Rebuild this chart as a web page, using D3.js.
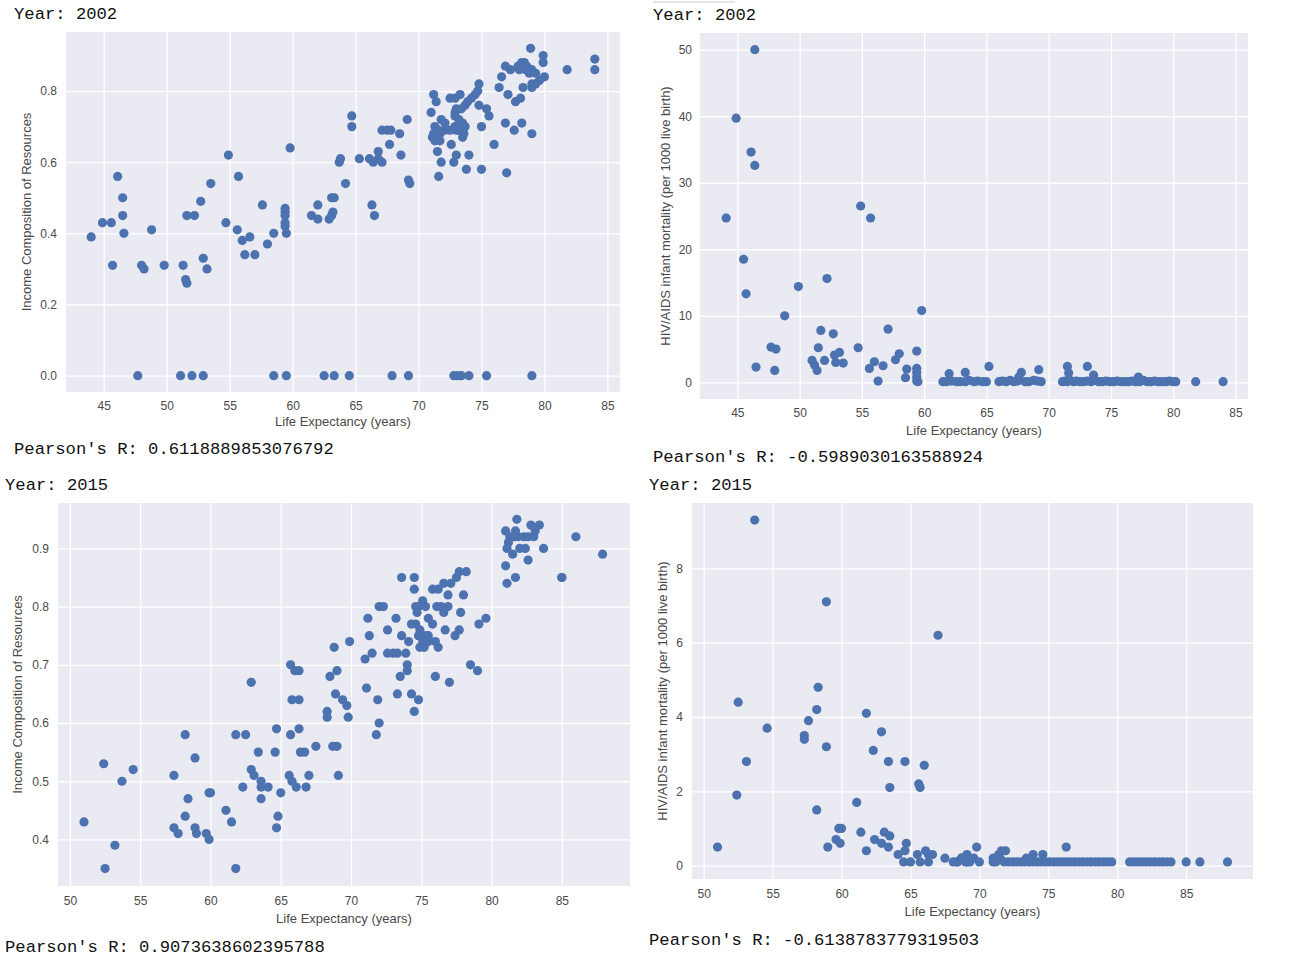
<!DOCTYPE html>
<html>
<head>
<meta charset="utf-8">
<script src="https://cdn.jsdelivr.net/npm/d3@7"></script>
<style>
  html, body { margin: 0; padding: 0; background: #ffffff; }
  svg { display: block; }
</style>
</head>
<body>
<svg id="chart" width="1294" height="962"></svg>
<script>
// ---------------- DATA ----------------
// Panel 1: 2002, life expectancy vs income composition of resources
const lifeExp2002_icr = [
  44.0,44.9,45.6,46.1,46.5,46.5,46.6,45.7,48.8,48.0,48.2,49.8,51.3,51.5,51.6,51.6,52.2,52.7,52.9,53.2,
  53.5,54.9,54.7,55.6,55.7,56.0,56.2,56.6,57.0,57.6,58.0,58.5,59.4,59.4,59.4,59.4,59.4,59.5,59.8,61.5,
  62.0,62.0,62.9,63.1,63.2,63.1,63.3,63.7,63.8,64.2,64.7,64.7,65.3,66.1,66.4,66.8,67.1,66.8,66.3,66.5,
  67.1,67.5,67.8,68.5,67.7,68.6,69.1,69.2,69.3,
  47.7,51.1,52.0,52.9,58.5,59.5,62.5,63.3,64.5,67.9,69.2,72.8,73.1,73.4,74.0,75.4,79.0,
  71.2,71.4,71.0,72.5,72.9,73.3,74.8,74.7,74.5,74.2,73.9,73.7,73.4,73.0,72.9,74.8,75.4,75.6,75.0,71.8,
  72.1,72.9,73.2,73.5,73.7,73.3,73.0,71.3,71.6,71.2,71.4,71.7,71.1,71.3,71.7,72.1,72.5,72.9,73.2,73.6,
  73.5,73.6,72.6,73.0,74.0,71.5,71.8,72.8,73.8,75.0,77.0,76.0,71.6,76.6,76.4,76.9,77.3,77.9,78.2,78.4,
  78.6,78.0,78.5,79.0,79.3,78.8,78.9,79.9,79.9,80.0,79.6,79.3,79.0,79.0,77.1,77.7,78.1,78.3,76.9,77.6,
  78.2,79.0,81.8,84.0,84.0
];
const incomeComp2002 = [
  0.39,0.43,0.43,0.56,0.50,0.45,0.40,0.31,0.41,0.31,0.30,0.31,0.31,0.27,0.26,0.45,0.45,0.49,0.33,0.30,
  0.54,0.62,0.43,0.41,0.56,0.38,0.34,0.39,0.34,0.48,0.37,0.40,0.47,0.46,0.45,0.43,0.42,0.40,0.64,0.45,
  0.48,0.44,0.44,0.45,0.46,0.50,0.50,0.60,0.61,0.54,0.73,0.70,0.61,0.61,0.60,0.61,0.60,0.63,0.48,0.45,
  0.69,0.69,0.69,0.68,0.65,0.62,0.72,0.55,0.54,
  0,0,0,0,0,0,0,0,0,0,0,0,0,0,0,0,0,
  0.79,0.77,0.74,0.78,0.78,0.79,0.82,0.80,0.79,0.78,0.77,0.76,0.75,0.75,0.74,0.76,0.75,0.73,0.70,0.72,
  0.71,0.73,0.72,0.71,0.70,0.70,0.69,0.70,0.69,0.68,0.68,0.68,0.67,0.66,0.66,0.69,0.69,0.70,0.69,0.68,
  0.67,0.70,0.65,0.62,0.62,0.63,0.60,0.60,0.58,0.58,0.57,0.65,0.56,0.84,0.81,0.87,0.86,0.87,0.88,0.88,
  0.87,0.86,0.86,0.86,0.85,0.85,0.92,0.90,0.88,0.84,0.83,0.82,0.82,0.81,0.79,0.77,0.78,0.81,0.71,0.69,
  0.71,0.68,0.86,0.89,0.86
];

// Panel 2: 2002, life expectancy vs HIV/AIDS infant mortality
const lifeExp2002_hiv = [
  44.1,44.9,46.1,46.4,46.4,45.5,45.7,49.9,48.8,52.2,54.9,55.7,59.8,51.7,52.7,57.1,47.7,48.1,46.5,48.0,
  51.0,51.2,51.4,51.5,52.0,52.8,53.2,52.9,53.5,54.7,55.6,56.0,56.3,56.7,57.7,58.0,58.6,58.5,59.4,59.4,
  59.4,59.4,59.4,59.5,61.5,62.0,62.6,63.3,63.3,65.2,67.8,67.6,69.2,71.5,71.6,73.1,73.6,77.2,
  61.8,62.2,62.9,63.6,64.0,64.3,64.7,65.0,66.0,66.3,66.6,66.9,67.2,67.5,68.1,68.4,68.8,69.1,69.4,71.1,
  71.3,71.5,71.7,72.0,72.2,72.5,72.8,73.1,73.4,73.7,74.0,74.3,74.6,74.9,75.2,75.5,75.8,76.1,76.4,76.7,
  77.0,77.3,77.6,77.9,78.2,78.5,78.8,79.1,79.4,79.7,80.0,80.2,81.8,84.0
];
const hivMortality2002 = [
  24.7,39.7,34.6,50.0,32.6,18.5,13.3,14.4,10.0,15.6,26.5,24.7,10.8,7.8,7.3,8.0,5.3,5.0,2.3,1.8,
  3.3,2.6,1.8,5.2,3.3,4.1,4.5,3.0,2.9,5.2,2.1,3.1,0.2,2.5,3.4,4.3,2.0,0.7,4.7,2.1,
  1.5,0.8,0.2,0.1,0.1,1.3,0.1,1.5,0.1,2.4,1.5,0.8,1.9,2.4,1.4,2.4,1.1,0.8,
  0.1,0.2,0.1,0.3,0.1,0.2,0.1,0.1,0.1,0.2,0.1,0.3,0.1,0.2,0.1,0.1,0.3,0.2,0.1,0.1,
  0.2,0.1,0.3,0.1,0.2,0.1,0.1,0.2,0.1,0.3,0.1,0.1,0.2,0.1,0.1,0.2,0.1,0.1,0.1,0.2,
  0.1,0.1,0.3,0.1,0.1,0.2,0.1,0.1,0.1,0.2,0.1,0.1,0.1,0.1
];

// Panel 3: 2015, life expectancy vs income composition of resources
const lifeExp2015_icr = [
  51.0,52.4,52.5,53.2,53.7,54.5,57.4,57.4,57.7,58.2,58.2,58.4,58.9,58.9,59.0,59.7,59.9,59.9,60.0,61.1,
  61.5,61.8,61.8,62.5,62.3,62.9,62.9,63.1,63.4,63.6,63.6,64.1,63.6,64.6,64.7,64.8,64.7,65.0,65.6,65.8,
  66.1,65.7,66.0,66.3,65.8,66.3,65.7,66.3,66.4,66.7,66.8,67.0,67.5,68.3,68.3,68.5,68.8,69.0,68.9,68.7,
  69.0,69.1,69.9,69.4,69.7,69.8,72.0,71.8,71.2,72.0,72.3,71.3,71.5,71.0,71.1,71.9,72.6,73.2,73.6,74.5,
  74.5,73.6,74.1,72.6,73.0,73.3,73.9,74.0,74.0,73.5,73.3,74.3,74.8,74.5,75.8,76.2,76.6,77.1,76.9,77.5,
  77.7,78.2,78.0,74.6,74.8,75.1,75.3,74.7,74.3,74.6,74.9,75.5,75.8,74.8,75.1,75.3,75.5,74.9,75.2,75.5,
  76.0,76.2,76.1,76.4,76.6,76.9,77.8,77.7,77.4,76.7,78.5,79.0,76.0,77.0,79.1,79.6,81.8,82.8,83.4,81.0,
  81.3,81.7,81.9,82.3,82.6,83.0,83.1,81.2,81.6,81.1,81.5,82.0,82.4,82.6,83.7,81.0,81.7,81.1,85.0,85.0,
  86.0,87.9
];
const incomeComp2015 = [
  0.43,0.53,0.35,0.39,0.50,0.52,0.51,0.42,0.41,0.58,0.44,0.47,0.54,0.42,0.41,0.41,0.40,0.48,0.48,0.45,
  0.43,0.35,0.58,0.58,0.49,0.67,0.52,0.51,0.55,0.50,0.49,0.49,0.47,0.55,0.59,0.44,0.42,0.48,0.51,0.50,
  0.49,0.70,0.69,0.69,0.64,0.64,0.58,0.59,0.55,0.55,0.49,0.51,0.56,0.62,0.61,0.68,0.73,0.69,0.65,0.56,
  0.56,0.51,0.74,0.64,0.63,0.61,0.60,0.58,0.78,0.80,0.80,0.75,0.72,0.71,0.66,0.64,0.76,0.78,0.85,0.85,
  0.83,0.75,0.74,0.72,0.72,0.72,0.72,0.70,0.69,0.68,0.65,0.65,0.64,0.62,0.83,0.83,0.84,0.84,0.82,0.85,
  0.86,0.86,0.82,0.80,0.80,0.81,0.80,0.79,0.77,0.77,0.76,0.78,0.77,0.75,0.74,0.75,0.75,0.73,0.73,0.74,
  0.74,0.73,0.80,0.80,0.79,0.80,0.79,0.76,0.75,0.76,0.70,0.69,0.68,0.67,0.77,0.78,0.95,0.94,0.94,0.93,
  0.92,0.93,0.92,0.92,0.92,0.92,0.93,0.91,0.92,0.90,0.89,0.90,0.90,0.88,0.90,0.87,0.85,0.84,0.85,0.85,
  0.92,0.89
];

// Panel 4: 2015, life expectancy vs HIV/AIDS infant mortality
const lifeExp2015_hiv = [
  51.0,52.4,52.5,53.1,53.7,54.6,57.3,57.3,57.6,58.3,58.2,58.2,58.9,58.9,59.0,59.6,59.9,59.8,60.0,61.1,
  61.4,61.8,61.8,62.3,62.4,62.9,62.9,63.1,63.5,63.4,63.4,63.5,64.1,64.5,64.6,64.7,64.6,65.0,65.5,65.7,
  65.6,65.7,66.0,66.1,66.3,66.6,66.3,67.0,67.5,68.4,68.7,69.1,69.1,69.8,71.0,71.4,71.6,71.9,73.4,73.9,
  74.6,76.3,
  68.1,68.4,68.7,69.0,69.3,69.6,70.0,71.0,71.2,71.5,71.8,72.1,72.4,72.7,73.0,73.3,73.6,73.9,74.2,74.5,
  74.8,75.1,75.4,75.7,76.0,76.3,76.6,76.9,77.2,77.5,77.8,78.1,78.4,78.7,79.0,79.3,79.6,80.9,81.2,81.5,
  81.8,82.1,82.4,82.7,83.0,83.3,83.6,83.9,85.0,86.0,88.0
];
const hivMortality2015 = [
  0.5,1.9,4.4,2.8,9.3,3.7,3.5,3.4,3.9,4.8,4.2,1.5,7.1,3.2,0.5,0.7,0.6,1.0,1.0,1.7,
  0.9,4.1,0.4,3.1,0.7,3.6,0.6,0.9,0.8,0.5,2.8,2.1,0.3,0.1,2.8,0.6,0.4,0.1,0.3,0.1,
  2.2,2.1,2.7,0.4,0.3,0.3,0.1,6.2,0.2,0.1,0.2,0.3,0.1,0.5,0.2,0.3,0.4,0.4,0.2,0.3,
  0.3,0.5,
  0.1,0.1,0.2,0.1,0.1,0.2,0.1,0.1,0.1,0.2,0.1,0.1,0.1,0.1,0.1,0.1,0.1,0.1,0.1,0.1,
  0.1,0.1,0.1,0.1,0.1,0.1,0.1,0.1,0.1,0.1,0.1,0.1,0.1,0.1,0.1,0.1,0.1,0.1,0.1,0.1,
  0.1,0.1,0.1,0.1,0.1,0.1,0.1,0.1,0.1,0.1,0.1
];

// Tick values
const xTicks2002 = [45, 50, 55, 60, 65, 70, 75, 80, 85];
const xTicks2015 = [50, 55, 60, 65, 70, 75, 80, 85];
const icrTicks2002 = [0.0, 0.2, 0.4, 0.6, 0.8];
const hivTicks2002 = [0, 10, 20, 30, 40, 50];
const icrTicks2015 = [0.4, 0.5, 0.6, 0.7, 0.8, 0.9];
const hivTicks2015 = [0, 2, 4, 6, 8];

// Texts
const xLabel = "Life Expectancy (years)";
const icrLabel = "Income Composition of Resources";
const hivLabel = "HIV/AIDS infant mortality (per 1000 live birth)";
const yearTexts = ["Year: 2002", "Year: 2002", "Year: 2015", "Year: 2015"];
const pearsonTexts = [
  "Pearson's R: 0.6118889853076792",
  "Pearson's R: -0.5989030163588924",
  "Pearson's R: 0.9073638602395788",
  "Pearson's R: -0.6138783779319503"
];

// ---------------- DRAWING ----------------
const svg = d3.select("#chart");
const BG = "#EAEAF2", DOT = "#4C72B0", TXT = "#4a4a4a";
const SANS = "'Liberation Sans', Arial, sans-serif";
const MONO = "'Liberation Mono', 'Courier New', monospace";

function panel(cfg) {
  const { left, top, right, bottom } = cfg.box;
  const x = d3.scaleLinear().domain(cfg.xDomain).range([left, right]);
  const y = d3.scaleLinear().domain(cfg.yDomain).range([bottom, top]);
  const g = svg.append("g");

  g.append("rect").attr("x", left).attr("y", top)
    .attr("width", right - left).attr("height", bottom - top).attr("fill", BG);

  // grid + tick labels via d3 axes
  const xa = g.append("g").attr("transform", `translate(0,${bottom})`)
    .call(d3.axisBottom(x).tickValues(cfg.xTicks).tickSize(-(bottom - top))
      .tickPadding(cfg.xPad).tickFormat(d3.format("d")));
  const ya = g.append("g").attr("transform", `translate(${left},0)`)
    .call(d3.axisLeft(y).tickValues(cfg.yTicks).tickSize(-(right - left))
      .tickPadding(cfg.yPad).tickFormat(cfg.yFmt));
  [xa, ya].forEach(a => {
    a.select(".domain").remove();
    a.selectAll(".tick line").attr("stroke", "#ffffff").attr("stroke-width", 1.3);
    a.selectAll(".tick text").attr("fill", TXT).attr("font-family", SANS).attr("font-size", 12);
  });

  // points
  g.append("g").selectAll("circle")
    .data(cfg.xs.map((v, i) => [v, cfg.ys[i]]))
    .join("circle")
    .attr("cx", d => x(d[0])).attr("cy", d => y(d[1]))
    .attr("r", 4.6).attr("fill", DOT);

  // axis labels
  g.append("text").attr("x", (left + right) / 2).attr("y", cfg.xLabelY)
    .attr("text-anchor", "middle").attr("fill", TXT).attr("font-family", SANS)
    .attr("font-size", 13).text(xLabel);
  g.append("text")
    .attr("transform", `translate(${cfg.yLabelX},${(top + bottom) / 2}) rotate(-90)`)
    .attr("text-anchor", "middle").attr("fill", TXT).attr("font-family", SANS)
    .attr("font-size", 13).text(cfg.yLabel);

  // year and pearson texts
  g.append("text").attr("x", cfg.textX).attr("y", cfg.yearY)
    .attr("fill", "#111").attr("font-family", MONO).attr("font-size", 17.2).text(cfg.year);
  g.append("text").attr("x", cfg.textX).attr("y", cfg.pearsonY)
    .attr("fill", "#111").attr("font-family", MONO).attr("font-size", 17.2).text(cfg.pearson);
}

panel({
  box: { left: 66, top: 32, right: 620, bottom: 392 },
  xDomain: [42, 86], yDomain: [-0.046, 0.966],
  xTicks: xTicks2002, yTicks: icrTicks2002, yFmt: d3.format(".1f"),
  xs: lifeExp2002_icr, ys: incomeComp2002,
  xPad: 9, yPad: 9, xLabelY: 426, yLabelX: 31, yLabel: icrLabel,
  textX: 14, yearY: 19, pearsonY: 454, year: yearTexts[0], pearson: pearsonTexts[0]
});
panel({
  box: { left: 700, top: 33, right: 1248, bottom: 399 },
  xDomain: [42, 86], yDomain: [-2.5, 52.5],
  xTicks: xTicks2002, yTicks: hivTicks2002, yFmt: d3.format("d"),
  xs: lifeExp2002_hiv, ys: hivMortality2002,
  xPad: 9, yPad: 8, xLabelY: 435, yLabelX: 670, yLabel: hivLabel,
  textX: 653, yearY: 20, pearsonY: 462, year: yearTexts[1], pearson: pearsonTexts[1]
});
panel({
  box: { left: 58, top: 503, right: 630, bottom: 886 },
  xDomain: [49.15, 89.85], yDomain: [0.32, 0.978],
  xTicks: xTicks2015, yTicks: icrTicks2015, yFmt: d3.format(".1f"),
  xs: lifeExp2015_icr, ys: incomeComp2015,
  xPad: 10, yPad: 9, xLabelY: 923, yLabelX: 22, yLabel: icrLabel,
  textX: 5, yearY: 490, pearsonY: 952, year: yearTexts[2], pearson: pearsonTexts[2]
});
panel({
  box: { left: 692, top: 503, right: 1253, bottom: 879 },
  xDomain: [49.15, 89.85], yDomain: [-0.36, 9.76],
  xTicks: xTicks2015, yTicks: hivTicks2015, yFmt: d3.format("d"),
  xs: lifeExp2015_hiv, ys: hivMortality2015,
  xPad: 10, yPad: 9, xLabelY: 916, yLabelX: 667, yLabel: hivLabel,
  textX: 649, yearY: 490, pearsonY: 945, year: yearTexts[3], pearson: pearsonTexts[3]
});

// thin separator line above second panel's title
svg.append("line").attr("x1", 653).attr("x2", 735).attr("y1", 2).attr("y2", 2)
  .attr("stroke", "#cccccc").attr("stroke-width", 1);
</script>
</body>
</html>
